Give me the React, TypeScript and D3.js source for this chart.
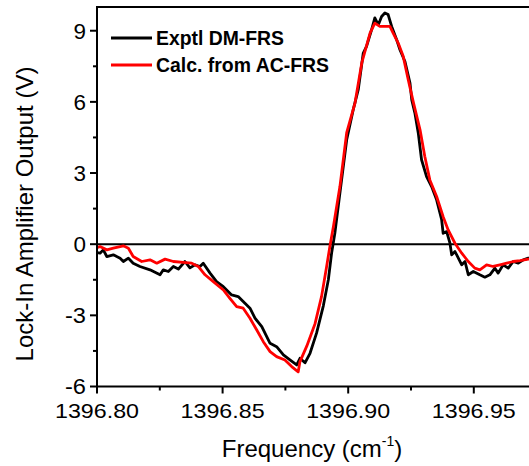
import React from "react";
import * as d3 from "d3";

const exptlFreq = [
  1396.8, 1396.8012, 1396.8025, 1396.8039, 1396.8065, 1396.8092, 1396.8105, 1396.8125, 1396.8144,
  1396.8171, 1396.8211, 1396.8251, 1396.8264, 1396.8284, 1396.8304, 1396.8324, 1396.835, 1396.837,
  1396.839, 1396.841, 1396.8423, 1396.845, 1396.8476, 1396.8503, 1396.8536, 1396.8562, 1396.8582,
  1396.8609, 1396.8629, 1396.8656, 1396.8689, 1396.8715, 1396.8742, 1396.8768, 1396.8795, 1396.8808,
  1396.8828, 1396.8848, 1396.8874, 1396.8901, 1396.8921, 1396.8934, 1396.8947, 1396.8967, 1396.8994,
  1396.902, 1396.904, 1396.906, 1396.9073, 1396.9093, 1396.9106, 1396.912, 1396.9133, 1396.9146,
  1396.9159, 1396.9173, 1396.9193, 1396.9206, 1396.9226, 1396.9246, 1396.9253, 1396.9266, 1396.9279,
  1396.9292, 1396.9312, 1396.9332, 1396.9352, 1396.9372, 1396.9378, 1396.9392, 1396.9405, 1396.9412,
  1396.9425, 1396.9432, 1396.9452, 1396.9465, 1396.9478, 1396.9498, 1396.9524, 1396.9544, 1396.9564,
  1396.9584, 1396.9597, 1396.9617, 1396.9637, 1396.9657, 1396.9677, 1396.9697, 1396.9717, 1396.9743,
];
const exptlSignal = [
  -0.35, -0.38, -0.24, -0.52, -0.45, -0.59, -0.73, -0.59, -0.8,
  -0.94, -1.08, -1.29, -1.08, -1.15, -0.94, -1.05, -0.73, -1.0,
  -0.87, -0.94, -0.8, -1.22, -1.58, -1.79, -2.14, -2.21, -2.42,
  -2.7, -3.12, -3.48, -4.18, -4.32, -4.67, -4.88, -5.09, -4.81,
  -5.0, -4.6, -3.75, -2.6, -1.5, -0.37, 0.47, 2.16, 4.4,
  5.67, 6.51, 8.06, 8.34, 9.04, 9.54, 9.25, 9.6, 9.75,
  9.68, 9.18, 8.62, 8.2, 7.7, 6.79, 6.08, 5.5, 4.68,
  3.56, 2.85, 2.43, 1.87, 1.03, 0.46, 0.53, 0.04, -0.45,
  -0.31, -0.45, -0.87, -0.73, -1.29, -1.15, -1.29, -1.39, -1.29,
  -1.01, -1.22, -0.87, -1.01, -0.73, -0.8, -0.66, -0.59, -0.6,
];

const calcFreq = [
  1396.8, 1396.8012, 1396.8039, 1396.8065, 1396.8105, 1396.8125, 1396.8144, 1396.8178, 1396.8211,
  1396.8238, 1396.8271, 1396.8304, 1396.8343, 1396.8377, 1396.8403, 1396.843, 1396.8463, 1396.8503,
  1396.8529, 1396.8556, 1396.8582, 1396.8609, 1396.8636, 1396.8662, 1396.8689, 1396.8715, 1396.8748,
  1396.8775, 1396.8801, 1396.8808, 1396.8835, 1396.8868, 1396.8894, 1396.8914, 1396.8927, 1396.8941,
  1396.8967, 1396.8994, 1396.9027, 1396.9054, 1396.9087, 1396.9106, 1396.9126, 1396.9153, 1396.9166,
  1396.9179, 1396.9199, 1396.9219, 1396.9239, 1396.9259, 1396.9286, 1396.9305, 1396.9325, 1396.9352,
  1396.9378, 1396.9398, 1396.9425, 1396.9452, 1396.9478, 1396.9504, 1396.9524, 1396.9551, 1396.9577,
  1396.9604, 1396.9631, 1396.9657, 1396.9684, 1396.9717, 1396.9743,
];
const calcSignal = [
  -0.15, -0.1, -0.24, -0.17, -0.07, -0.17, -0.52, -0.73, -0.66,
  -0.8, -0.63, -0.73, -0.77, -0.8, -0.94, -1.29, -1.58, -1.93,
  -2.28, -2.63, -2.7, -3.12, -3.62, -4.11, -4.53, -4.74, -4.88,
  -5.16, -5.38, -4.95, -4.3, -3.35, -2.2, -0.95, -0.1, 0.74,
  2.43, 4.7, 5.95, 7.64, 8.9, 9.32, 9.18, 9.18, 9.18,
  8.9, 8.48, 7.92, 6.93, 6.0, 4.82, 3.7, 2.71, 2.01,
  1.16, 0.6, 0.04, -0.38, -0.73, -1.01, -1.08, -0.87, -0.94,
  -0.87, -0.8, -0.73, -0.69, -0.63, -0.6,
];

const xTicks = [1396.8, 1396.85, 1396.9, 1396.95];
const xMinorTicks = [1396.825, 1396.875, 1396.925, 1396.975];
const yTicks = [-6, -3, 0, 3, 6, 9];
const yMinorTicks = [-4.5, -1.5, 1.5, 4.5, 7.5];
const legendLabels = ["Exptl DM-FRS", "Calc. from AC-FRS"];
const legendColors = ["#000000", "#ff0000"];

const W = 529;
const H = 466;
const left = 97;
const top = 7;
const bottom = 386.5;
const xMax = 1396.98;
const pxPer005 = 125.6;

export default function App() {
  const x = d3
    .scaleLinear()
    .domain([1396.8, xMax])
    .range([left, left + ((xMax - 1396.8) / 0.05) * pxPer005]);
  const y = d3.scaleLinear().domain([-6, 10]).range([bottom, top]);

  const mk = (fs: number[], vs: number[]) =>
    d3
      .line<number>()
      .x((_, i) => x(fs[i]))
      .y((_, i) => y(vs[i]))
      .curve(d3.curveLinear)(vs) || "";

  const font = "Arial, 'Liberation Sans', sans-serif";
  const legendWidths = [128, 173];

  return (
    <svg
      width={W}
      height={H}
      style={{ position: "absolute", left: 0, top: 0, background: "#fff" }}
      fontFamily={font}
    >
      <defs>
        <clipPath id="plot">
          <rect x={left} y={top} width={W - left} height={bottom - top} />
        </clipPath>
      </defs>
      <rect x={0} y={0} width={W} height={H} fill="#fff" />
      <line x1={left} x2={W} y1={y(0)} y2={y(0)} stroke="#000" strokeWidth={2} />
      <g clipPath="url(#plot)" fill="none" strokeLinejoin="round" strokeLinecap="round">
        <path d={mk(exptlFreq, exptlSignal)} stroke="#000" strokeWidth={2.8} />
        <path d={mk(calcFreq, calcSignal)} stroke="#ff0000" strokeWidth={2.8} />
      </g>
      <line x1={left} x2={W} y1={top} y2={top} stroke="#000" strokeWidth={2} />
      <line x1={left} x2={W} y1={bottom} y2={bottom} stroke="#000" strokeWidth={2} />
      <line x1={left} x2={left} y1={top - 1} y2={bottom + 1} stroke="#000" strokeWidth={2} />
      {yTicks.map((t) => (
        <g key={"y" + t}>
          <line x1={left - 7} x2={left} y1={y(t)} y2={y(t)} stroke="#000" strokeWidth={2} />
          <text
            x={86}
            y={y(t)}
            dy="0.36em"
            textAnchor="end"
            fontSize={22}
            textLength={t < 0 ? 21 : 12.5}
            lengthAdjust="spacingAndGlyphs"
          >
            {t}
          </text>
        </g>
      ))}
      {yMinorTicks.map((t) => (
        <line key={"ym" + t} x1={left - 4} x2={left} y1={y(t)} y2={y(t)} stroke="#000" strokeWidth={2} />
      ))}
      {xTicks.map((t) => (
        <g key={"x" + t}>
          <line x1={x(t)} x2={x(t)} y1={bottom} y2={bottom + 7} stroke="#000" strokeWidth={2} />
          <text
            x={x(t)}
            y={418}
            textAnchor="middle"
            fontSize={21}
            textLength={84}
            lengthAdjust="spacingAndGlyphs"
          >
            {t.toFixed(2)}
          </text>
        </g>
      ))}
      {xMinorTicks.map((t) => (
        <line key={"xm" + t} x1={x(t)} x2={x(t)} y1={bottom} y2={bottom + 4} stroke="#000" strokeWidth={2} />
      ))}
      <text x={312} y={457} textAnchor="middle" fontSize={24}>
        Frequency (cm
        <tspan fontSize={14} dy={-11}>
          -1
        </tspan>
        <tspan dy={11}>)</tspan>
      </text>
      <text transform={`translate(33, 214) rotate(-90)`} textAnchor="middle" fontSize={24}>
        Lock-In Amplifier Output (V)
      </text>
      {legendLabels.map((label, i) => (
        <g key={label}>
          <line x1={111} x2={152} y1={38 + i * 27} y2={38 + i * 27} stroke={legendColors[i]} strokeWidth={3} />
          <text
            x={156}
            y={44.5 + i * 27}
            fontSize={19.5}
            fontWeight="bold"
            textLength={legendWidths[i]}
            lengthAdjust="spacingAndGlyphs"
          >
            {label}
          </text>
        </g>
      ))}
    </svg>
  );
}
